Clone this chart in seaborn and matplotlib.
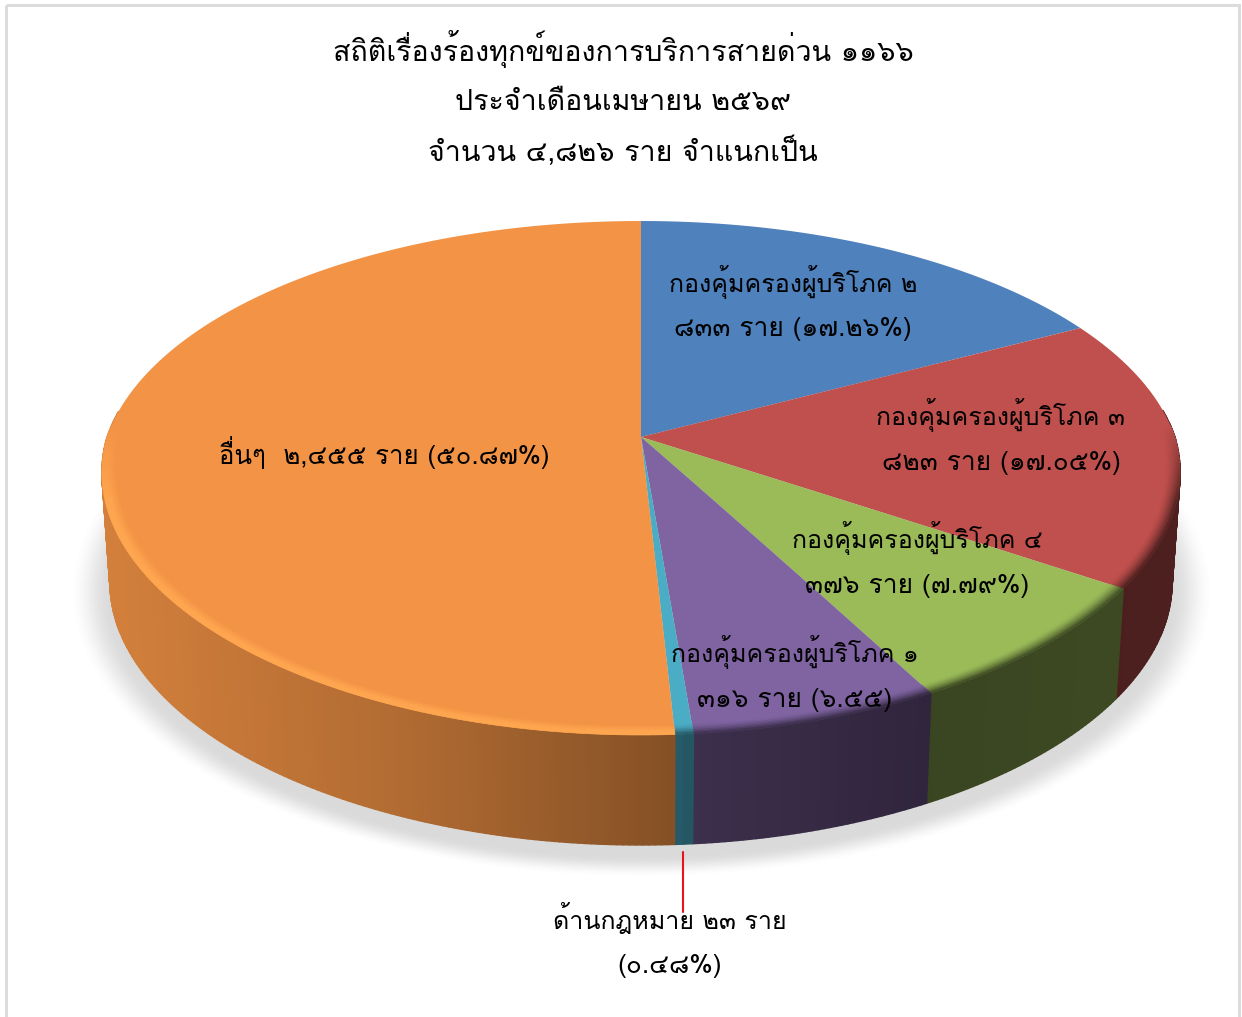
import numpy as np
import matplotlib
matplotlib.use("Agg")
import matplotlib.pyplot as plt
import matplotlib.colors as mcolors
from matplotlib import font_manager as fm
from matplotlib.collections import PolyCollection
from matplotlib.patches import Rectangle
from matplotlib.path import Path
from matplotlib.transforms import Transform
import seaborn as sns

# Complaint counts per unit, clockwise from twelve o'clock
units = ["กองคุ้มครองผู้บริโภค ๒", "กองคุ้มครองผู้บริโภค ๓", "กองคุ้มครองผู้บริโภค ๔",
         "กองคุ้มครองผู้บริโภค ๑", "ด้านกฎหมาย", "อื่นๆ"]
counts = [833, 823, 376, 316, 23, 2455]
hex_colors = ["#4F81BD", "#C0504D", "#9BBB59", "#8064A2", "#4BACC6", "#F39345"]
title_lines = ["สถิติเรื่องร้องทุกข์ของการบริการสายด่วน ๑๑๖๖",
               "ประจำเดือนเมษายน ๒๕๖๙",
               "จำนวน ๔,๘๒๖ ราย จำแนกเป็น"]
label_lines = [["กองคุ้มครองผู้บริโภค ๒", "๘๓๓ ราย (๑๗.๒๖%)"],
               ["กองคุ้มครองผู้บริโภค ๓", "๘๒๓ ราย (๑๗.๐๕%)"],
               ["กองคุ้มครองผู้บริโภค ๔", "๓๗๖ ราย (๗.๗๙%)"],
               ["กองคุ้มครองผู้บริโภค ๑", "๓๑๖ ราย (๖.๕๕)"],
               ["ด้านกฎหมาย ๒๓ ราย", "(๐.๔๘%)"],
               ["อื่นๆ  ๒,๔๕๕ ราย (๕๐.๘๗%)"]]

sns.set_theme(style="white")
palette = sns.color_palette(hex_colors)


def thai_family():
    """Return the first installed family that covers Thai letters."""
    seen = set()
    for entry in fm.fontManager.ttflist:
        if entry.name in seen:
            continue
        seen.add(entry.name)
        try:
            if 0x0E01 in fm.get_font(entry.fname).get_charmap():
                return entry.name
        except Exception:
            pass
    return "DejaVu Sans"


plt.rcParams["font.family"] = [thai_family(), "DejaVu Sans"]

# Perspective of the disc: unit circle to canvas pixels
CX, CY, RX, RY, PERSP = 641.0, 437.0, 534.0, 180.75, 0.1595
SKEW = 0.022
DEPTH = 110.0
TAPER = 0.985


def project(px, py, depth=0.0):
    py = np.asarray(py, float)
    w = 1 + PERSP * py
    x = RX * px * (1 + SKEW * np.minimum(py, 0)) / w
    y = (CY - RY * py) / w
    if depth:
        x = x * TAPER
        y = y + depth
    return np.column_stack([CX + x, y])


class DiscPerspective(Transform):
    input_dims = output_dims = 2
    is_separable = False
    has_inverse = False

    def transform_non_affine(self, values):
        values = np.asarray(values, float)
        return project(values[:, 0], values[:, 1])

    def transform_path_non_affine(self, path):
        pts = []
        for seg, code in path.iter_bezier():
            if code == Path.MOVETO:
                pts.append(seg.point_at_t(0.0))
            else:
                pts.extend(seg.point_at_t(t) for t in np.linspace(0.05, 1, 20))
        return Path(self.transform_non_affine(np.array(pts)))


fig = plt.figure(figsize=(12.42, 10.17), dpi=100, facecolor="white")
ax = fig.add_axes([0, 0, 1, 1])
wedges, _ = ax.pie(counts, colors=palette, startangle=90, counterclock=False, radius=1)
ax.set_aspect("auto")
ax.set_xlim(0, 1242)
ax.set_ylim(1017, 0)
ax.axis("off")

# Panel outline, open at the bottom edge
ax.add_patch(Rectangle((6, 5), 1233, 1040, fill=False, ec="#DCDCDC", lw=2.2, zorder=0))

# Soft ground shadow beneath the disc
yy, xx = np.mgrid[0:1017, 0:1242]
rho = np.hypot((xx - 641) / 572.0, (yy - 592) / 285.0)
fade = np.clip((1.0 - rho) / 0.075, 0, 1)
shadow = np.zeros((1017, 1242, 4))
shadow[..., :3] = 0.45
shadow[..., 3] = 0.26 * fade * fade * (3 - 2 * fade)
ax.imshow(shadow, extent=(0, 1242, 1017, 0), aspect="auto", zorder=0.5, interpolation="bilinear")
ax.set_xlim(0, 1242)
ax.set_ylim(1017, 0)


def wall_shade(x):
    return np.interp(x, [102, 400, 670, 700, 930, 1180],
                     [0.87, 0.73, 0.55, 0.47, 0.37, 0.40])


wall_polys, wall_cols, rim_polys, rim_cols = [], [], [], []
rim_edges = np.linspace(0.972, 1.0, 8)
for wedge, base in zip(wedges, palette):
    base = np.array(mcolors.to_rgb(base))
    wedge.set_transform(DiscPerspective() + ax.transData)
    wedge.set_zorder(2)
    wedge.set_edgecolor("none")
    is_orange = base[0] > 0.9
    steps = max(2, int((wedge.theta2 - wedge.theta1) / 0.6))
    angles = np.radians(np.linspace(wedge.theta1, wedge.theta2, steps + 1))
    cs, sn = np.cos(angles), np.sin(angles)
    top = project(cs, sn)
    bottom = project(cs, sn, DEPTH)
    for i in range(steps):
        if sn[i] > 0.1 and sn[i + 1] > 0.1:
            continue
        shade = wall_shade(0.5 * (top[i, 0] + top[i + 1, 0]))
        wall_polys.append([top[i], top[i + 1], bottom[i + 1], bottom[i]])
        wall_cols.append(base * shade)
        weight = np.clip((0.05 - 0.5 * (sn[i] + sn[i + 1])) / 0.3, 0, 1)
        if weight == 0:
            continue
        for r0, r1 in zip(rim_edges[:-1], rim_edges[1:]):
            a = project(r0 * cs[i:i + 2], r0 * sn[i:i + 2])
            b = project(r1 * cs[i:i + 2], r1 * sn[i:i + 2])
            k = (0.5 * (r0 + r1) - rim_edges[0]) / (1 - rim_edges[0])
            if is_orange:
                target = np.array(mcolors.to_rgb("#FFA650"))
                mix = min(1.0, k * 1.5) * weight
            else:
                target = base * shade
                mix = k ** 1.5 * weight
            rim_polys.append([a[0], a[1], b[1], b[0]])
            rim_cols.append(base * (1 - mix) + target * mix)

ax.add_collection(PolyCollection(wall_polys, facecolors=wall_cols, edgecolors=wall_cols,
                                 linewidths=1.0, zorder=1))
ax.add_collection(PolyCollection(rim_polys, facecolors=rim_cols, edgecolors=rim_cols,
                                 linewidths=0.5, zorder=3))

# Leader from the legal-affairs slice down to its label
ax.plot([683, 683], [852, 912], color="#E8141C", lw=1.5, zorder=4)

TEXT = "#000000"
for y, line in zip([61.5, 110.5, 161], title_lines):
    ax.text(623, y, line, ha="center", va="baseline", fontsize=20.6, color=TEXT, zorder=5)

# Baselines and type sizes for each label's lines
anchors = [(793, [292, 336], [18, 19]), (1001, [425, 470], [18, 19]),
           (917, [548, 593], [18, 19]), (795, [662, 707], [18, 19]),
           (670, [929, 973], [18, 19]), (384, [464], [18.6])]
for (x, ys, sizes), lines in zip(anchors, label_lines):
    for y, size, line in zip(ys, sizes, lines):
        ax.text(x, y, line, ha="center", va="baseline", fontsize=size, color=TEXT, zorder=5)

fig.savefig("out.png", dpi=100, facecolor="white")
